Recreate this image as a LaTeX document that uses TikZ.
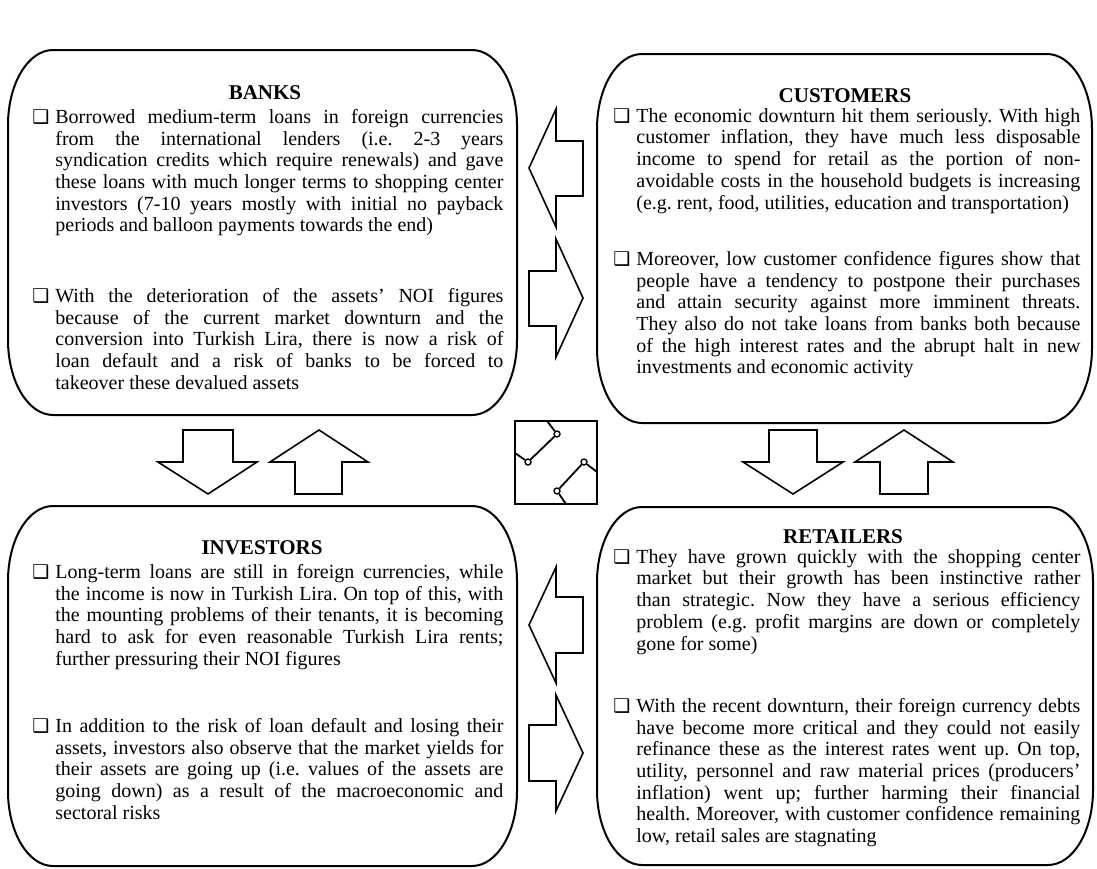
\documentclass[tikz,border=0pt]{standalone}
\usepackage{fontspec}
\setmainfont{Liberation Serif}
\newfontfamily\boxsym{DejaVu Sans}
\usetikzlibrary{positioning}

\tolerance=9999
\emergencystretch=2em
\frenchspacing

% checkbox bullet with hanging indent
\newcommand{\chk}{\makebox[11.5pt][l]{{\boxsym\fontsize{9.5}{9.5}\selectfont ❑}}}
\newcommand{\pitem}[1]{\leftskip=11.5pt\noindent\hskip-11.5pt\chk#1\par}

\tikzset{
  panel/.style={draw, line width=1pt},
  corner/.style={x radius=45, y radius=75},
  title/.style={font=\bfseries\fontsize{10.5}{11}\selectfont, inner sep=0pt},
  lefttext/.style={anchor=north west, inner sep=0pt, text width=235.5pt, align=justify, font=\fontsize{10}{10.85}\selectfont},
  righttext/.style={anchor=north west, inner sep=0pt, text width=233.5pt, align=justify, font=\fontsize{10}{10.85}\selectfont},
  blockarrow/.style={draw, line width=0.8pt, line join=miter},
  hinge/.style={circle, draw, fill=white, line width=0.7pt, inner sep=0pt, minimum size=3pt},
}

\begin{document}
\begin{tikzpicture}[x=0.5pt, y=-0.5pt]
\useasboundingbox (0,0) rectangle (1097,868);

% Banks panel
\draw[panel] (53,50) -- (472,50) arc[start angle=-90, end angle=0, corner]
  -- (517,340) arc[start angle=0, end angle=90, corner]
  -- (53,415) arc[start angle=90, end angle=180, corner]
  -- (8,125) arc[start angle=180, end angle=270, corner] -- cycle;
\node[title] (banks) at (265,93) {BANKS};
\node[lefttext] (banks-a) at (32,109) {\pitem{Borrowed medium-term loans in foreign currencies\linebreak
  from the international lenders (i.e. 2-3 years\linebreak
  syndication credits which require renewals) and gave\linebreak
  these loans with much longer terms to shopping center\linebreak
  investors (7-10 years mostly with initial no payback\linebreak
  periods and balloon payments towards the end)}};
\node[lefttext] (banks-b) at (32,288) {\pitem{With the deterioration of the assets' NOI figures\linebreak
  because of the current market downturn and the\linebreak
  conversion into Turkish Lira, there is now a risk of\linebreak
  loan default and a risk of banks to be forced to\linebreak
  takeover these devalued assets}};

% Customers panel
\draw[panel] (642,54) -- (1047,54) arc[start angle=-90, end angle=0, corner]
  -- (1092,348) arc[start angle=0, end angle=90, corner]
  -- (642,423) arc[start angle=90, end angle=180, corner]
  -- (597,129) arc[start angle=180, end angle=270, corner] -- cycle;
\node[title] (customers) at (845,96) {CUSTOMERS};
\node[righttext] (customers-a) at (613,108) {\pitem{The economic downturn hit them seriously. With high\linebreak
  customer inflation, they have much less disposable\linebreak
  income to spend for retail as the portion of non-\linebreak
  avoidable costs in the household budgets is increasing\linebreak
  (e.g. rent, food, utilities, education and transportation)}};
\node[righttext] (customers-b) at (613,251) {\pitem{Moreover, low customer confidence figures show that\linebreak
  people have a tendency to postpone their purchases\linebreak
  and attain security against more imminent threats.\linebreak
  They also do not take loans from banks both because\linebreak
  of the high interest rates and the abrupt halt in new\linebreak
  investments and economic activity}};

% Investors panel
\draw[panel] (53,506) -- (472,506) arc[start angle=-90, end angle=0, corner]
  -- (517,791) arc[start angle=0, end angle=90, corner]
  -- (53,866) arc[start angle=90, end angle=180, corner]
  -- (8,581) arc[start angle=180, end angle=270, corner] -- cycle;
\node[title] (investors) at (262,548) {INVESTORS};
\node[lefttext] (investors-a) at (32,564) {\pitem{Long-term loans are still in foreign currencies, while\linebreak
  the income is now in Turkish Lira. On top of this, with\linebreak
  the mounting problems of their tenants, it is becoming\linebreak
  hard to ask for even reasonable Turkish Lira rents;\linebreak
  further pressuring their NOI figures}};
\node[lefttext] (investors-b) at (32,718) {\pitem{In addition to the risk of loan default and losing their\linebreak
  assets, investors also observe that the market yields for\linebreak
  their assets are going up (i.e. values of the assets are\linebreak
  going down) as a result of the macroeconomic and\linebreak
  sectoral risks}};

% Retailers panel
\draw[panel] (642,507) -- (1048,507) arc[start angle=-90, end angle=0, corner]
  -- (1093,790) arc[start angle=0, end angle=90, corner]
  -- (642,865) arc[start angle=90, end angle=180, corner]
  -- (597,582) arc[start angle=180, end angle=270, corner] -- cycle;
\node[title] (retailers) at (843,537) {RETAILERS};
\node[righttext] (retailers-a) at (613,549) {\pitem{They have grown quickly with the shopping center\linebreak
  market but their growth has been instinctive rather\linebreak
  than strategic. Now they have a serious efficiency\linebreak
  problem (e.g. profit margins are down or completely\linebreak
  gone for some)}};
\node[righttext] (retailers-b) at (613,698) {\pitem{With the recent downturn, their foreign currency debts\linebreak
  have become more critical and they could not easily\linebreak
  refinance these as the interest rates went up. On top,\linebreak
  utility, personnel and raw material prices (producers'\linebreak
  inflation) went up; further harming their financial\linebreak
  health. Moreover, with customer confidence remaining\linebreak
  low, retail sales are stagnating}};

% Block arrows between the upper panels
\draw[blockarrow] (529,168) -- (556,109) -- (556,141) -- (583,141) -- (583,196) -- (556,196) -- (556,227) -- cycle;
\draw[blockarrow] (583,298) -- (556,239) -- (556,271) -- (529,271) -- (529,326) -- (556,326) -- (556,357) -- cycle;

% Block arrows between the lower panels
\draw[blockarrow] (529,625) -- (556,567) -- (556,597) -- (583,597) -- (583,653) -- (556,653) -- (556,683) -- cycle;
\draw[blockarrow] (583,753) -- (556,695) -- (556,725) -- (529,725) -- (529,781) -- (556,781) -- (556,811) -- cycle;

% Vertical block arrows
\draw[blockarrow] (208,494) -- (158,462) -- (183,462) -- (183,430) -- (233,430) -- (233,462) -- (257,462) -- cycle;
\draw[blockarrow] (319,430) -- (270,462) -- (295,462) -- (295,494) -- (342,494) -- (342,462) -- (368,462) -- cycle;
\draw[blockarrow] (793,494) -- (743,462) -- (769,462) -- (769,430) -- (817,430) -- (817,462) -- (843,462) -- cycle;
\draw[blockarrow] (904,430) -- (855,462) -- (880,462) -- (880,494) -- (928,494) -- (928,462) -- (953,462) -- cycle;

% Centre square with hinges
\draw[line width=1pt] (515,421) rectangle (597,504);
\coordinate (s1) at (547,421);
\coordinate (s2) at (515,453);
\coordinate (s3) at (597,472);
\coordinate (s4) at (566,504);
\node[hinge] (h1) at (557,434) {};
\node[hinge] (h2) at (528,462) {};
\node[hinge] (h3) at (584,462) {};
\node[hinge] (h4) at (557,491) {};
\draw[line width=0.9pt] (s1) -- (h1) -- (h2) -- (s2);
\draw[line width=0.9pt] (s3) -- (h3) -- (h4) -- (s4);

\end{tikzpicture}
\end{document}
